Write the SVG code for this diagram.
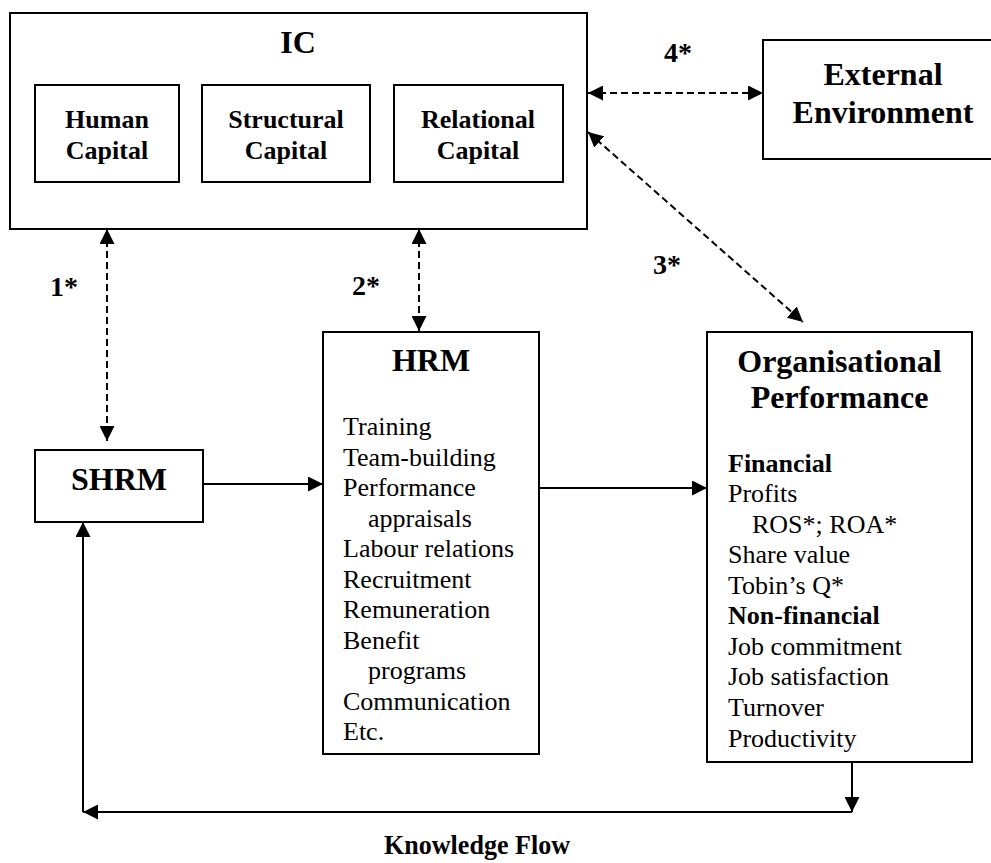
<svg xmlns="http://www.w3.org/2000/svg" width="991" height="863" viewBox="0 0 991 863">
  <style>
    .box { fill: #fff; stroke: #000; stroke-width: 2; }
    .t { font-family: "Liberation Serif", "Times New Roman", serif; fill: #000; }
    .title { font-size: 32px; font-weight: bold; text-anchor: middle; }
    .sub { font-size: 26px; font-weight: bold; text-anchor: middle; }
    .item { font-size: 26px; }
    .bold { font-weight: bold; }
    .num { font-size: 28px; font-weight: bold; }
    .solid { stroke: #000; stroke-width: 2; fill: none; }
    .dash { stroke: #000; stroke-width: 2; fill: none; stroke-dasharray: 7 4; }
  </style>
  <defs>
    <marker id="head" markerUnits="userSpaceOnUse" markerWidth="15" markerHeight="15" refX="15" refY="7.5" orient="auto-start-reverse" viewBox="0 0 15 15">
      <path d="M0,0 L15,7.5 L0,15 z" fill="#000"/>
    </marker>
  </defs>

  <rect width="991" height="863" fill="#fff"/>

  <!-- Intellectual capital with its three components -->
  <g id="ic">
    <rect class="box" x="10" y="13" width="577" height="216"/>
    <text class="t title" x="298" y="53">IC</text>
  </g>
  <g id="human-capital">
    <rect class="box" x="35" y="85" width="144" height="97"/>
    <text class="t sub" x="107" y="128">Human</text>
    <text class="t sub" x="107" y="159">Capital</text>
  </g>
  <g id="structural-capital">
    <rect class="box" x="202" y="85" width="168" height="97"/>
    <text class="t sub" x="286" y="128">Structural</text>
    <text class="t sub" x="286" y="159">Capital</text>
  </g>
  <g id="relational-capital">
    <rect class="box" x="394" y="85" width="169" height="97"/>
    <text class="t sub" x="478" y="128">Relational</text>
    <text class="t sub" x="478" y="159">Capital</text>
  </g>

  <g id="external-environment">
    <rect class="box" x="763" y="40" width="240" height="119"/>
    <text class="t title" x="883" y="85">External</text>
    <text class="t title" x="883" y="123">Environment</text>
  </g>

  <g id="shrm">
    <rect class="box" x="35" y="450" width="168" height="72"/>
    <text class="t title" x="119" y="490">SHRM</text>
  </g>

  <g id="hrm">
    <rect class="box" x="323" y="332" width="216" height="422"/>
    <text class="t title" x="431" y="371">HRM</text>
    <text class="t item" x="343" y="435">Training</text>
    <text class="t item" x="343" y="465.5">Team-building</text>
    <text class="t item" x="343" y="496">Performance</text>
    <text class="t item" x="368" y="526.5">appraisals</text>
    <text class="t item" x="343" y="557">Labour relations</text>
    <text class="t item" x="343" y="587.5">Recruitment</text>
    <text class="t item" x="343" y="618">Remuneration</text>
    <text class="t item" x="343" y="648.5">Benefit</text>
    <text class="t item" x="368" y="679">programs</text>
    <text class="t item" x="343" y="709.5">Communication</text>
    <text class="t item" x="343" y="740">Etc.</text>
  </g>

  <g id="organisational-performance">
    <rect class="box" x="707" y="332" width="265" height="430"/>
    <text class="t title" x="839.5" y="372">Organisational</text>
    <text class="t title" x="839.5" y="408">Performance</text>
    <text class="t item bold" x="728" y="472">Financial</text>
    <text class="t item" x="728" y="502">Profits</text>
    <text class="t item" x="752" y="532.5">ROS*; ROA*</text>
    <text class="t item" x="728" y="563">Share value</text>
    <text class="t item" x="728" y="593.5">Tobin’s Q*</text>
    <text class="t item bold" x="728" y="624">Non-financial</text>
    <text class="t item" x="728" y="654.5">Job commitment</text>
    <text class="t item" x="728" y="685">Job satisfaction</text>
    <text class="t item" x="728" y="716">Turnover</text>
    <text class="t item" x="728" y="747">Productivity</text>
  </g>

  <!-- Connectors -->
  <g id="connectors">
    <line class="dash" x1="107" y1="229" x2="107" y2="441" marker-start="url(#head)" marker-end="url(#head)"/>
    <line class="dash" x1="419" y1="229" x2="419" y2="331" marker-start="url(#head)" marker-end="url(#head)"/>
    <line class="dash" x1="588" y1="132" x2="803" y2="322" marker-start="url(#head)" marker-end="url(#head)"/>
    <line class="dash" x1="588" y1="93" x2="763" y2="93" marker-start="url(#head)" marker-end="url(#head)"/>
    <line class="solid" x1="203" y1="484" x2="323" y2="484" marker-end="url(#head)"/>
    <line class="solid" x1="539" y1="488" x2="707" y2="488" marker-end="url(#head)"/>
    <line class="solid" x1="852" y1="762" x2="852" y2="812" marker-end="url(#head)"/>
    <line class="solid" x1="852" y1="812" x2="83" y2="812" marker-end="url(#head)"/>
    <line class="solid" x1="83" y1="812" x2="83" y2="522" marker-end="url(#head)"/>
  </g>

  <!-- Connector labels -->
  <g id="labels">
    <text class="t num" x="50" y="296">1*</text>
    <text class="t num" x="352" y="295">2*</text>
    <text class="t num" x="653" y="274">3*</text>
    <text class="t num" x="664" y="62">4*</text>
    <text class="t num" x="477" y="854" text-anchor="middle" textLength="186" lengthAdjust="spacingAndGlyphs">Knowledge Flow</text>
  </g>
</svg>
